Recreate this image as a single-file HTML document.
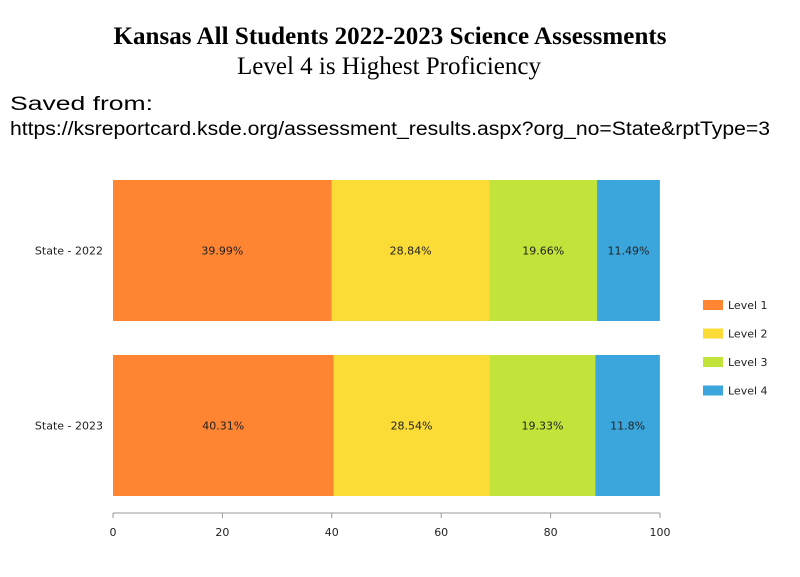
<!DOCTYPE html>
<html><head><meta charset="utf-8"><style>
body{margin:0;background:#fff;width:800px;height:572px;overflow:hidden}
</style></head><body>
<svg width="800" height="572" font-family="'DejaVu Sans', sans-serif">
<text x="390" y="44" text-anchor="middle" font-family="'Liberation Serif',serif" font-weight="bold" font-size="25" textLength="553">Kansas All Students 2022-2023 Science Assessments</text>
<text x="389" y="74" text-anchor="middle" font-family="'Liberation Serif',serif" font-size="25" textLength="304">Level 4 is Highest Proficiency</text>
<text x="10" y="110" font-family="'Liberation Sans',sans-serif" font-size="19" textLength="143" lengthAdjust="spacingAndGlyphs">Saved from:</text>
<text x="10" y="135" font-family="'Liberation Sans',sans-serif" font-size="19" textLength="760" lengthAdjust="spacingAndGlyphs">https://ksreportcard.ksde.org/assessment_results.aspx?org_no=State&amp;rptType=3</text>
<g id="plot"></g>
</svg>
<script>
const categories=["State - 2022","State - 2023"];
const seriesNames=["Level 1","Level 2","Level 3","Level 4"];
const level1=[39.99,40.31];
const level2=[28.84,28.54];
const level3=[19.66,19.33];
const level4=[11.49,11.8];
const valueLabels=[["39.99%","28.84%","19.66%","11.49%"],["40.31%","28.54%","19.33%","11.8%"]];
const ticks=[0,20,40,60,80,100];
const colors=["#FF8533","#FBDB35","#C2E33A","#3BA6DC"];
const NS="http://www.w3.org/2000/svg";
const plotG=document.getElementById('plot');
const x0=113,x1=660,topY=180,rowH=175,barH=141;
const xs=v=>x0+(x1-x0)*v/100;
function mk(t,a,txt){const e=document.createElementNS(NS,t);for(const k in a)e.setAttribute(k,a[k]);if(txt!==undefined)e.textContent=txt;plotG.appendChild(e);return e;}
const series=[level1,level2,level3,level4];
categories.forEach((c,i)=>{
 const y=topY+i*rowH;let acc=0;
 series.forEach((s,j)=>{
  const v=s[i];
  const r=mk('rect',{x:xs(acc),y:y,width:xs(acc+v)-xs(acc),height:barH,fill:colors[j]});
  
  
  const t=mk('text',{x:(xs(acc)+xs(acc+v))/2,y:y+barH/2+4,'text-anchor':'middle','font-size':11,fill:'#222'},valueLabels[i][j]);
  
  
  acc+=v;
 });
 const cl=mk('text',{x:103,y:y+barH/2+4,'text-anchor':'end','font-size':11,fill:'#222'},c);
 
 
});
const ax=mk('line',{x1:x0,x2:x1,y1:513,y2:513,stroke:'#999'});


ticks.forEach(t=>{
 mk('line',{x1:xs(t),x2:xs(t),y1:513,y2:518,stroke:'#999'});
 const tl=mk('text',{x:xs(t),y:536,'text-anchor':'middle','font-size':11,fill:'#222'},t);
 
 
});
seriesNames.forEach((n,j)=>{
 const y=300+j*28.5;
 const sw=mk('rect',{x:703,y:y,width:20,height:10,fill:colors[j]});
 
 
 const lt=mk('text',{x:728,y:y+9,'font-size':11,fill:'#222'},n);
 
 
});
</script>
</body></html>
